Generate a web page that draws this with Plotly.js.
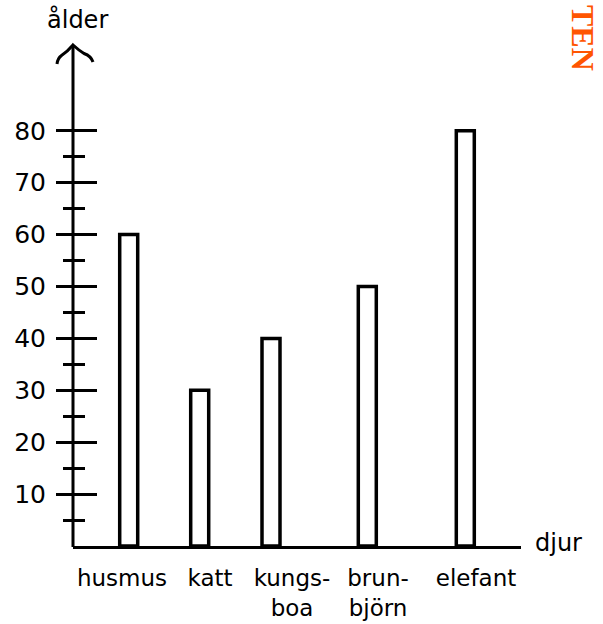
<!DOCTYPE html>
<html>
<head>
<meta charset="utf-8">
<script src="https://cdn.plot.ly/plotly-3.0.1.min.js"></script>
<style>html,body{margin:0;padding:0;background:#fff;}#chart{width:603px;height:624px;}</style>
</head>
<body>
<div id="chart"></div>
<script>
// ---- data ----
const categories = ["husmus", "katt", "kungs-<br>boa", "brun-<br>björn", "elefant"];
const ages = [60, 30, 40, 50, 80];
const yTickVals = [10, 20, 30, 40, 50, 60, 70, 80];
const yTickText = ["10", "20", "30", "40", "50", "60", "70", "80"];
const yMinorVals = [5, 15, 25, 35, 45, 55, 65, 75];
const yTitle = "ålder";
const xTitle = "djur";
const cornerMark = "TEN";

// ---- layout positions (x axis in pixel-like units) ----
const barPos = [55.7, 126.7, 198, 294.3, 392.3];
const labelPos = [49, 137, 219, 305, 403];

const FONT = "DejaVu Sans, sans-serif";
const M = {l: 73, r: 82, t: 27, b: 78};
const PW = 603 - M.l - M.r, PH = 624 - M.t - M.b;
// pixel -> paper helpers for decorative shapes/annotations
const px = v => (v - M.l) / PW;
const py = v => (624 - M.b - v) / PH;

const traces = [
  {
    type: "bar",
    x: barPos,
    y: ages,
    width: 18,
    marker: {color: "#ffffff", line: {color: "#000000", width: 3.5}},
    hoverinfo: "skip",
    xaxis: "x", yaxis: "y"
  },
  {
    type: "scatter", mode: "markers",
    x: [barPos[0]], y: [0],
    marker: {opacity: 0}, hoverinfo: "skip", showlegend: false,
    xaxis: "x", yaxis: "y2"
  }
];

const arrowPts = [[57, 64], [57.5, 58.5], [61.5, 55.5], [67.5, 51.5], [73, 45], [78.5, 50], [84, 53.5], [91, 56], [93, 62]];
const P = p => px(p[0]) + "," + py(p[1]);
const arrowPath = "M " + P(arrowPts[0]) +
  " Q " + P(arrowPts[1]) + " " + P(arrowPts[2]) +
  " Q " + P(arrowPts[3]) + " " + P(arrowPts[4]) +
  " Q " + P(arrowPts[5]) + " " + P(arrowPts[6]) +
  " Q " + P(arrowPts[7]) + " " + P(arrowPts[8]);

const layout = {
  width: 603, height: 624,
  margin: M,
  paper_bgcolor: "#ffffff", plot_bgcolor: "#ffffff",
  showlegend: false,
  font: {family: FONT, color: "#000000"},
  xaxis: {
    range: [0, 448], showgrid: false, zeroline: false,
    showline: true, linecolor: "#000000", linewidth: 3,
    tickmode: "array", tickvals: labelPos, ticktext: categories,
    ticks: "", tickfont: {size: 23, family: FONT, color: "#000000"},
    ticklabelstandoff: 9, automargin: false, fixedrange: true
  },
  yaxis: {
    range: [0, 100], showgrid: false, zeroline: false, showline: false,
    tickmode: "array", tickvals: yTickVals, ticktext: yTickText,
    ticks: "outside", ticklen: 16, tickwidth: 3, tickcolor: "#000000",
    tickfont: {size: 25, family: FONT, color: "#000000"},
    ticklabelstandoff: 5,
    minor: {tickmode: "array", tickvals: yMinorVals, ticks: "outside", ticklen: 9, tickwidth: 3, tickcolor: "#000000"},
    automargin: false, fixedrange: true
  },
  yaxis2: {
    overlaying: "y", side: "right", anchor: "free", position: 0,
    range: [0, 100], showgrid: false, zeroline: false, showline: false,
    tickmode: "array", tickvals: yTickVals, showticklabels: false,
    ticks: "outside", ticklen: 23, tickwidth: 3, tickcolor: "#000000",
    minor: {tickmode: "array", tickvals: yMinorVals, ticks: "outside", ticklen: 11, tickwidth: 3, tickcolor: "#000000"},
    automargin: false, fixedrange: true
  },
  shapes: [
    {type: "line", xref: "paper", yref: "paper", x0: 0, x1: 0, y0: py(547), y1: py(45),
     line: {color: "#000000", width: 3}, layer: "above"},
    {type: "path", xref: "paper", yref: "paper", path: arrowPath,
     line: {color: "#000000", width: 3}, layer: "above"}
  ],
  annotations: [
    {text: yTitle, xref: "paper", yref: "paper", x: px(77), y: py(19.6),
     xanchor: "center", yanchor: "middle", showarrow: false,
     font: {size: 24, family: FONT, color: "#000000"}},
    {text: xTitle, xref: "paper", yref: "paper", x: px(558), y: py(543.3),
     xanchor: "center", yanchor: "middle", showarrow: false,
     font: {size: 24, family: FONT, color: "#000000"}},
    {text: "<b>" + cornerMark + "</b>", xref: "paper", yref: "paper", x: px(583), y: py(38),
     xanchor: "center", yanchor: "middle", showarrow: false, textangle: 90,
     font: {size: 32, family: "Liberation Serif, serif", color: "#ff5500"}}
  ]
};

Plotly.newPlot("chart", traces, layout, {displayModeBar: false, staticPlot: true});
</script>
</body>
</html>
